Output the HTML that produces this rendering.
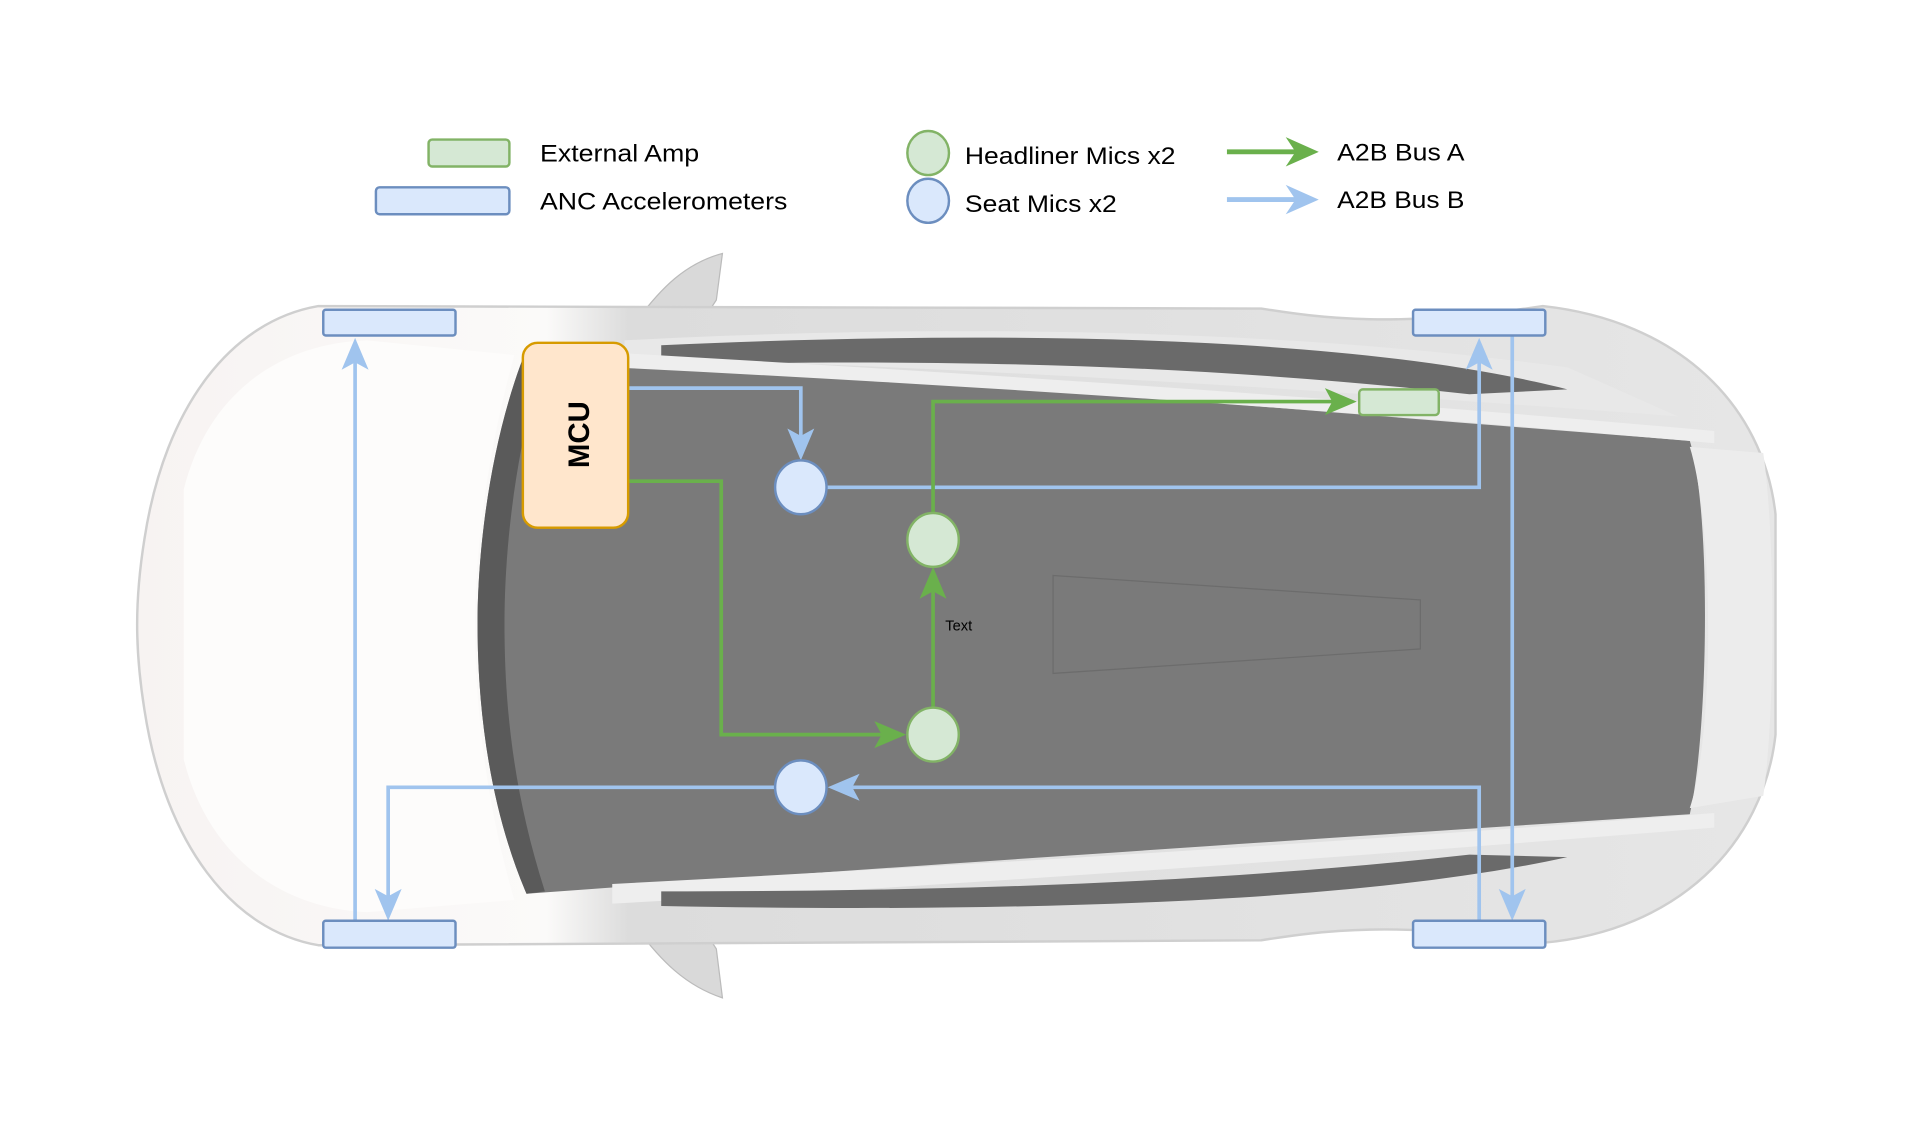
<!DOCTYPE html>
<html><head><meta charset="utf-8"><style>
html,body{margin:0;padding:0;background:#fff;}
svg{display:block;}
text{font-family:"Liberation Sans",Arial,sans-serif;}
</style></head><body>
<svg width="1920" height="1135" viewBox="0 0 1568 927" preserveAspectRatio="none" xmlns="http://www.w3.org/2000/svg">
<defs>
<linearGradient id="body" x1="0" y1="0" x2="1" y2="0">
<stop offset="0" stop-color="#f7f3f2"/><stop offset="0.25" stop-color="#fbfaf9"/><stop offset="0.3" stop-color="#dcdcdc"/><stop offset="1" stop-color="#e6e6e6"/>
</linearGradient>
</defs>
<path d="M520,262 C540,235 560,215 590,207 L585,245 L570,268 Z" fill="#d9d9d9" stroke="#bbb"/>
<path d="M520,758 C540,785 560,805 590,815 L585,775 L570,752 Z" fill="#d9d9d9" stroke="#bbb"/>
<path d="M260,250 C190,262 135,330 118,440 C110,490 110,530 118,580 C135,690 190,760 260,772 L1030,768 C1080,760 1140,752 1260,770 C1370,760 1440,690 1450,600 L1450,420 C1440,330 1370,262 1260,250 C1140,268 1080,260 1030,252 Z" fill="url(#body)" stroke="#cfcfcf" stroke-width="2"/>
<path d="M150,400 C170,320 230,280 300,278 L420,290 C395,380 388,460 388,510 C388,570 395,650 420,735 L300,745 C230,742 170,700 150,620 Z" fill="#fdfcfb"/>
<path d="M430,285 C400,360 390,450 390,510 C390,580 400,660 430,730 C700,710 1000,690 1380,665 C1395,600 1398,420 1380,360 C1000,330 700,305 430,285 Z" fill="#7a7a7a"/>
<path d="M430,285 C400,360 390,450 390,510 C390,580 400,660 430,730 L445,728 C420,650 412,580 412,510 C412,450 420,370 445,288 Z" fill="#5a5a5a"/>
<path d="M510,278 C700,268 1000,262 1280,300 L1370,340 C1100,320 800,300 510,292 Z" fill="#e8e8e8"/>
<path d="M540,282 C800,270 1100,272 1280,318 L1200,322 C1000,300 800,292 540,298 Z" fill="#6a6a6a"/>
<path d="M500,300 C800,315 1100,335 1400,362 L1400,352 C1100,325 800,305 500,288 Z" fill="#eeeeee"/>
<path d="M500,722 C800,706 1100,688 1400,664 L1400,676 C1100,700 800,722 500,738 Z" fill="#eeeeee"/>
<path d="M540,740 C800,745 1100,740 1280,700 L1200,698 C1000,720 800,728 540,728 Z" fill="#6a6a6a"/>
<path d="M1380,365 C1400,430 1400,600 1380,660 L1440,650 C1450,580 1450,440 1440,370 Z" fill="#ececec"/>
<path d="M860,470 L1160,490 L1160,530 L860,550 Z" fill="none" stroke="#6c6c6c" stroke-width="1"/>

<rect x="350" y="114" width="66" height="22" rx="3" fill="#d5e8d4" stroke="#82b366" stroke-width="2"/>
<rect x="307" y="153" width="109" height="22" rx="3" fill="#dae8fc" stroke="#6c8ebf" stroke-width="2"/>
<text x="441" y="132" font-size="20" textLength="130" lengthAdjust="spacingAndGlyphs">External Amp</text>
<text x="441" y="171" font-size="20" textLength="202" lengthAdjust="spacingAndGlyphs">ANC Accelerometers</text>
<ellipse cx="758" cy="125" rx="17" ry="18" fill="#d5e8d4" stroke="#82b366" stroke-width="2"/>
<ellipse cx="758" cy="164" rx="17" ry="18" fill="#dae8fc" stroke="#6c8ebf" stroke-width="2"/>
<text x="788" y="134" font-size="20" textLength="172" lengthAdjust="spacingAndGlyphs">Headliner Mics x2</text>
<text x="788" y="173" font-size="20" textLength="124" lengthAdjust="spacingAndGlyphs">Seat Mics x2</text>
<line x1="1002" y1="124" x2="1060" y2="124" stroke="#6ab04c" stroke-width="4"/>
<path d="M1077,124 L1050,112 L1058,124 L1050,136 Z" fill="#6ab04c"/>
<line x1="1002" y1="163" x2="1060" y2="163" stroke="#a0c4ee" stroke-width="4"/>
<path d="M1077,163 L1050,151 L1058,163 L1050,175 Z" fill="#a0c4ee"/>
<text x="1092" y="131" font-size="20" textLength="104" lengthAdjust="spacingAndGlyphs">A2B Bus A</text>
<text x="1092" y="170" font-size="20" textLength="104" lengthAdjust="spacingAndGlyphs">A2B Bus B</text>

<g fill="none" stroke="#a0c4ee" stroke-width="3">
<polyline points="513,317 654,317 654,368"/>
<polyline points="675,398 1208,398 1208,284"/>
<line x1="290" y1="752" x2="290" y2="284"/>
<line x1="1235" y1="274" x2="1235" y2="744"/>
<polyline points="1208,752 1208,643 686,643"/>
<polyline points="633,643 317,643 317,744"/>
</g>
<g fill="#a0c4ee">
<path d="M654,376 L643,350 L654,356 L665,350 Z"/>
<path d="M1208,276 L1197,302 L1208,296 L1219,302 Z"/>
<path d="M290,276 L279,302 L290,296 L301,302 Z"/>
<path d="M1235,752 L1224,726 L1235,732 L1246,726 Z"/>
<path d="M676,643 L702,632 L696,643 L702,654 Z"/>
<path d="M317,752 L306,726 L317,732 L328,726 Z"/>
</g>
<g fill="none" stroke="#6ab04c" stroke-width="3">
<polyline points="513,393 589,393 589,600 730,600"/>
<line x1="762" y1="579" x2="762" y2="472"/>
<polyline points="762,420 762,328 1098,328"/>
</g>
<g fill="#6ab04c">
<path d="M740,600 L714,589 L720,600 L714,611 Z"/>
<path d="M762,463 L751,489 L762,483 L773,489 Z"/>
<path d="M1108,328 L1082,317 L1088,328 L1082,339 Z"/>
</g>
<text x="772" y="515" font-size="12">Text</text>

<g fill="#dae8fc" stroke="#6c8ebf" stroke-width="2">
<rect x="264" y="253" width="108" height="21" rx="2"/>
<rect x="1154" y="253" width="108" height="21" rx="2"/>
<rect x="264" y="752" width="108" height="22" rx="2"/>
<rect x="1154" y="752" width="108" height="22" rx="2"/>
</g>
<rect x="1110" y="318" width="65" height="21" rx="3" fill="#d5e8d4" stroke="#82b366" stroke-width="2"/>
<rect x="427" y="280" width="86" height="151" rx="12" fill="#ffe6cc" stroke="#d79b00" stroke-width="2"/>
<text transform="translate(481,355) rotate(-90)" font-size="24" font-weight="bold" text-anchor="middle">MCU</text>
<ellipse cx="654" cy="398" rx="21" ry="22" fill="#dae8fc" stroke="#6c8ebf" stroke-width="2"/>
<ellipse cx="654" cy="643" rx="21" ry="22" fill="#dae8fc" stroke="#6c8ebf" stroke-width="2"/>
<ellipse cx="762" cy="441" rx="21" ry="22" fill="#d5e8d4" stroke="#82b366" stroke-width="2"/>
<ellipse cx="762" cy="600" rx="21" ry="22" fill="#d5e8d4" stroke="#82b366" stroke-width="2"/>
</svg>
</body></html>
